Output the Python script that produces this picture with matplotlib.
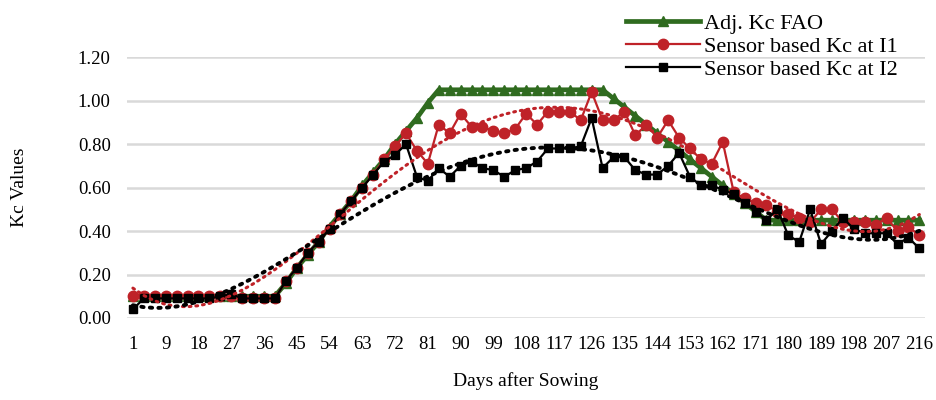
import numpy as np
import matplotlib
matplotlib.use("Agg")
import matplotlib.pyplot as plt

days = [1, 3, 6, 9, 12, 15, 18, 21, 24, 27, 30, 33, 36, 39, 42, 45, 48, 51, 54, 57,
        60, 63, 66, 69, 72, 75, 78, 81, 84, 87, 90, 93, 96, 99, 102, 105, 108, 111,
        114, 117, 120, 123, 126, 129, 132, 135, 138, 141, 144, 147, 150, 153, 156,
        159, 162, 165, 168, 171, 174, 177, 180, 183, 186, 189, 192, 195, 198, 201,
        204, 207, 210, 213, 216]

kc_fao = [0.10, 0.10, 0.10, 0.10, 0.10, 0.10, 0.10, 0.10, 0.10, 0.10, 0.10, 0.10, 0.10, 0.10,
          0.16, 0.23, 0.29, 0.35, 0.42, 0.48, 0.54, 0.61, 0.67, 0.73, 0.80, 0.86, 0.92, 0.99,
          1.05, 1.05, 1.05, 1.05, 1.05, 1.05, 1.05, 1.05, 1.05, 1.05, 1.05, 1.05, 1.05, 1.05,
          1.05, 1.05,
          1.01, 0.97, 0.93, 0.89, 0.85, 0.81, 0.77, 0.73, 0.69, 0.65, 0.61, 0.57, 0.53, 0.49,
          0.45, 0.45, 0.45, 0.45, 0.45, 0.45, 0.45, 0.45, 0.45, 0.45, 0.45, 0.45, 0.45, 0.45,
          0.45]

kc_i1 = [0.10, 0.10, 0.10, 0.10, 0.10, 0.10, 0.10, 0.10, 0.10, 0.10, 0.09, 0.09, 0.09, 0.09,
         0.17, 0.23, 0.30, 0.35, 0.41, 0.48, 0.54, 0.60, 0.66, 0.73, 0.79, 0.85, 0.77, 0.71,
         0.89, 0.85, 0.94, 0.88, 0.88, 0.86, 0.85, 0.87, 0.94, 0.89, 0.95, 0.95, 0.95, 0.91,
         1.04, 0.91, 0.91, 0.95, 0.84, 0.89, 0.83, 0.91, 0.83, 0.78, 0.73, 0.71, 0.81, 0.58,
         0.55, 0.53, 0.52, 0.49, 0.48, 0.46, 0.44, 0.50, 0.50, 0.44, 0.44, 0.44, 0.43, 0.46,
         0.40, 0.42, 0.38]

kc_i2 = [0.04, 0.09, 0.09, 0.09, 0.09, 0.09, 0.09, 0.09, 0.10, 0.11, 0.09, 0.09, 0.09, 0.09,
         0.17, 0.23, 0.30, 0.35, 0.41, 0.48, 0.54, 0.60, 0.66, 0.72, 0.75, 0.80, 0.65, 0.63,
         0.69, 0.65, 0.70, 0.72, 0.69, 0.68, 0.65, 0.68, 0.69, 0.72, 0.78, 0.78, 0.78, 0.79,
         0.92, 0.69, 0.74, 0.74, 0.68, 0.66, 0.66, 0.70, 0.76, 0.65, 0.61, 0.61, 0.59, 0.57,
         0.53, 0.49, 0.45, 0.50, 0.38, 0.35, 0.50, 0.34, 0.40, 0.46, 0.41, 0.39, 0.39, 0.39,
         0.34, 0.37, 0.32]

y_ticks = [0.0, 0.2, 0.4, 0.6, 0.8, 1.0, 1.2]

plt.rcParams['font.family'] = ['Liberation Serif', 'DejaVu Serif']

fig = plt.figure(figsize=(9.37, 4.0), dpi=100)
ax = fig.add_axes([0.136, 0.205, 0.851, 0.652])

x = np.arange(len(days))

green = '#2f6b1f'
red = '#bf2228'

ax.plot(x, kc_fao, color=green, lw=3.4, marker='^', ms=6.5, label='Adj. Kc FAO', zorder=3)
ax.plot(x, kc_i1, color=red, lw=1.6, marker='o', ms=7.5, label='Sensor based Kc at I1', zorder=4)
ax.plot(x, kc_i2, color='black', lw=1.6, marker='s', ms=5.5, label='Sensor based Kc at I2', zorder=5)

# polynomial trendlines (as in the spreadsheet)
deg = 4
p1 = np.polyfit(x, kc_i1, deg)
p2 = np.polyfit(x, kc_i2, deg)
ax.plot(x, np.polyval(p1, x), color=red, lw=2.2, ls=(0, (0.6, 1.6)), dash_capstyle='round', zorder=6)
ax.plot(x, np.polyval(p2, x), color='black', lw=2.8, ls=(0, (0.6, 1.6)), dash_capstyle='round', zorder=6)

ax.set_xlim(-0.5, len(days) - 0.5)
ax.set_ylim(0, 1.2)
ax.set_yticks(y_ticks)
ax.set_yticklabels([f'{v:.2f}' for v in y_ticks])
ax.set_xticks(x[::3])
ax.set_xticklabels([str(d) for d in days[::3]])
ax.tick_params(axis='both', length=0, labelsize=13.5)
ax.tick_params(axis='x', pad=13)
ax.tick_params(axis='y', pad=12)
ax.grid(axis='y', color='#d9d9d9', lw=1.8)
ax.set_axisbelow(True)
for s in ax.spines.values():
    s.set_visible(False)

ax.set_xlabel('Days after Sowing', fontsize=14, labelpad=14)
ax.set_ylabel('Kc Values', fontsize=14, labelpad=36)

fig.legend(loc='upper left', bbox_to_anchor=(0.652, 1.005), frameon=False,
           fontsize=16, handlelength=3.3, handletextpad=0.2, labelspacing=0.1,
           borderpad=0.2)

fig.savefig('out.png', dpi=100)
